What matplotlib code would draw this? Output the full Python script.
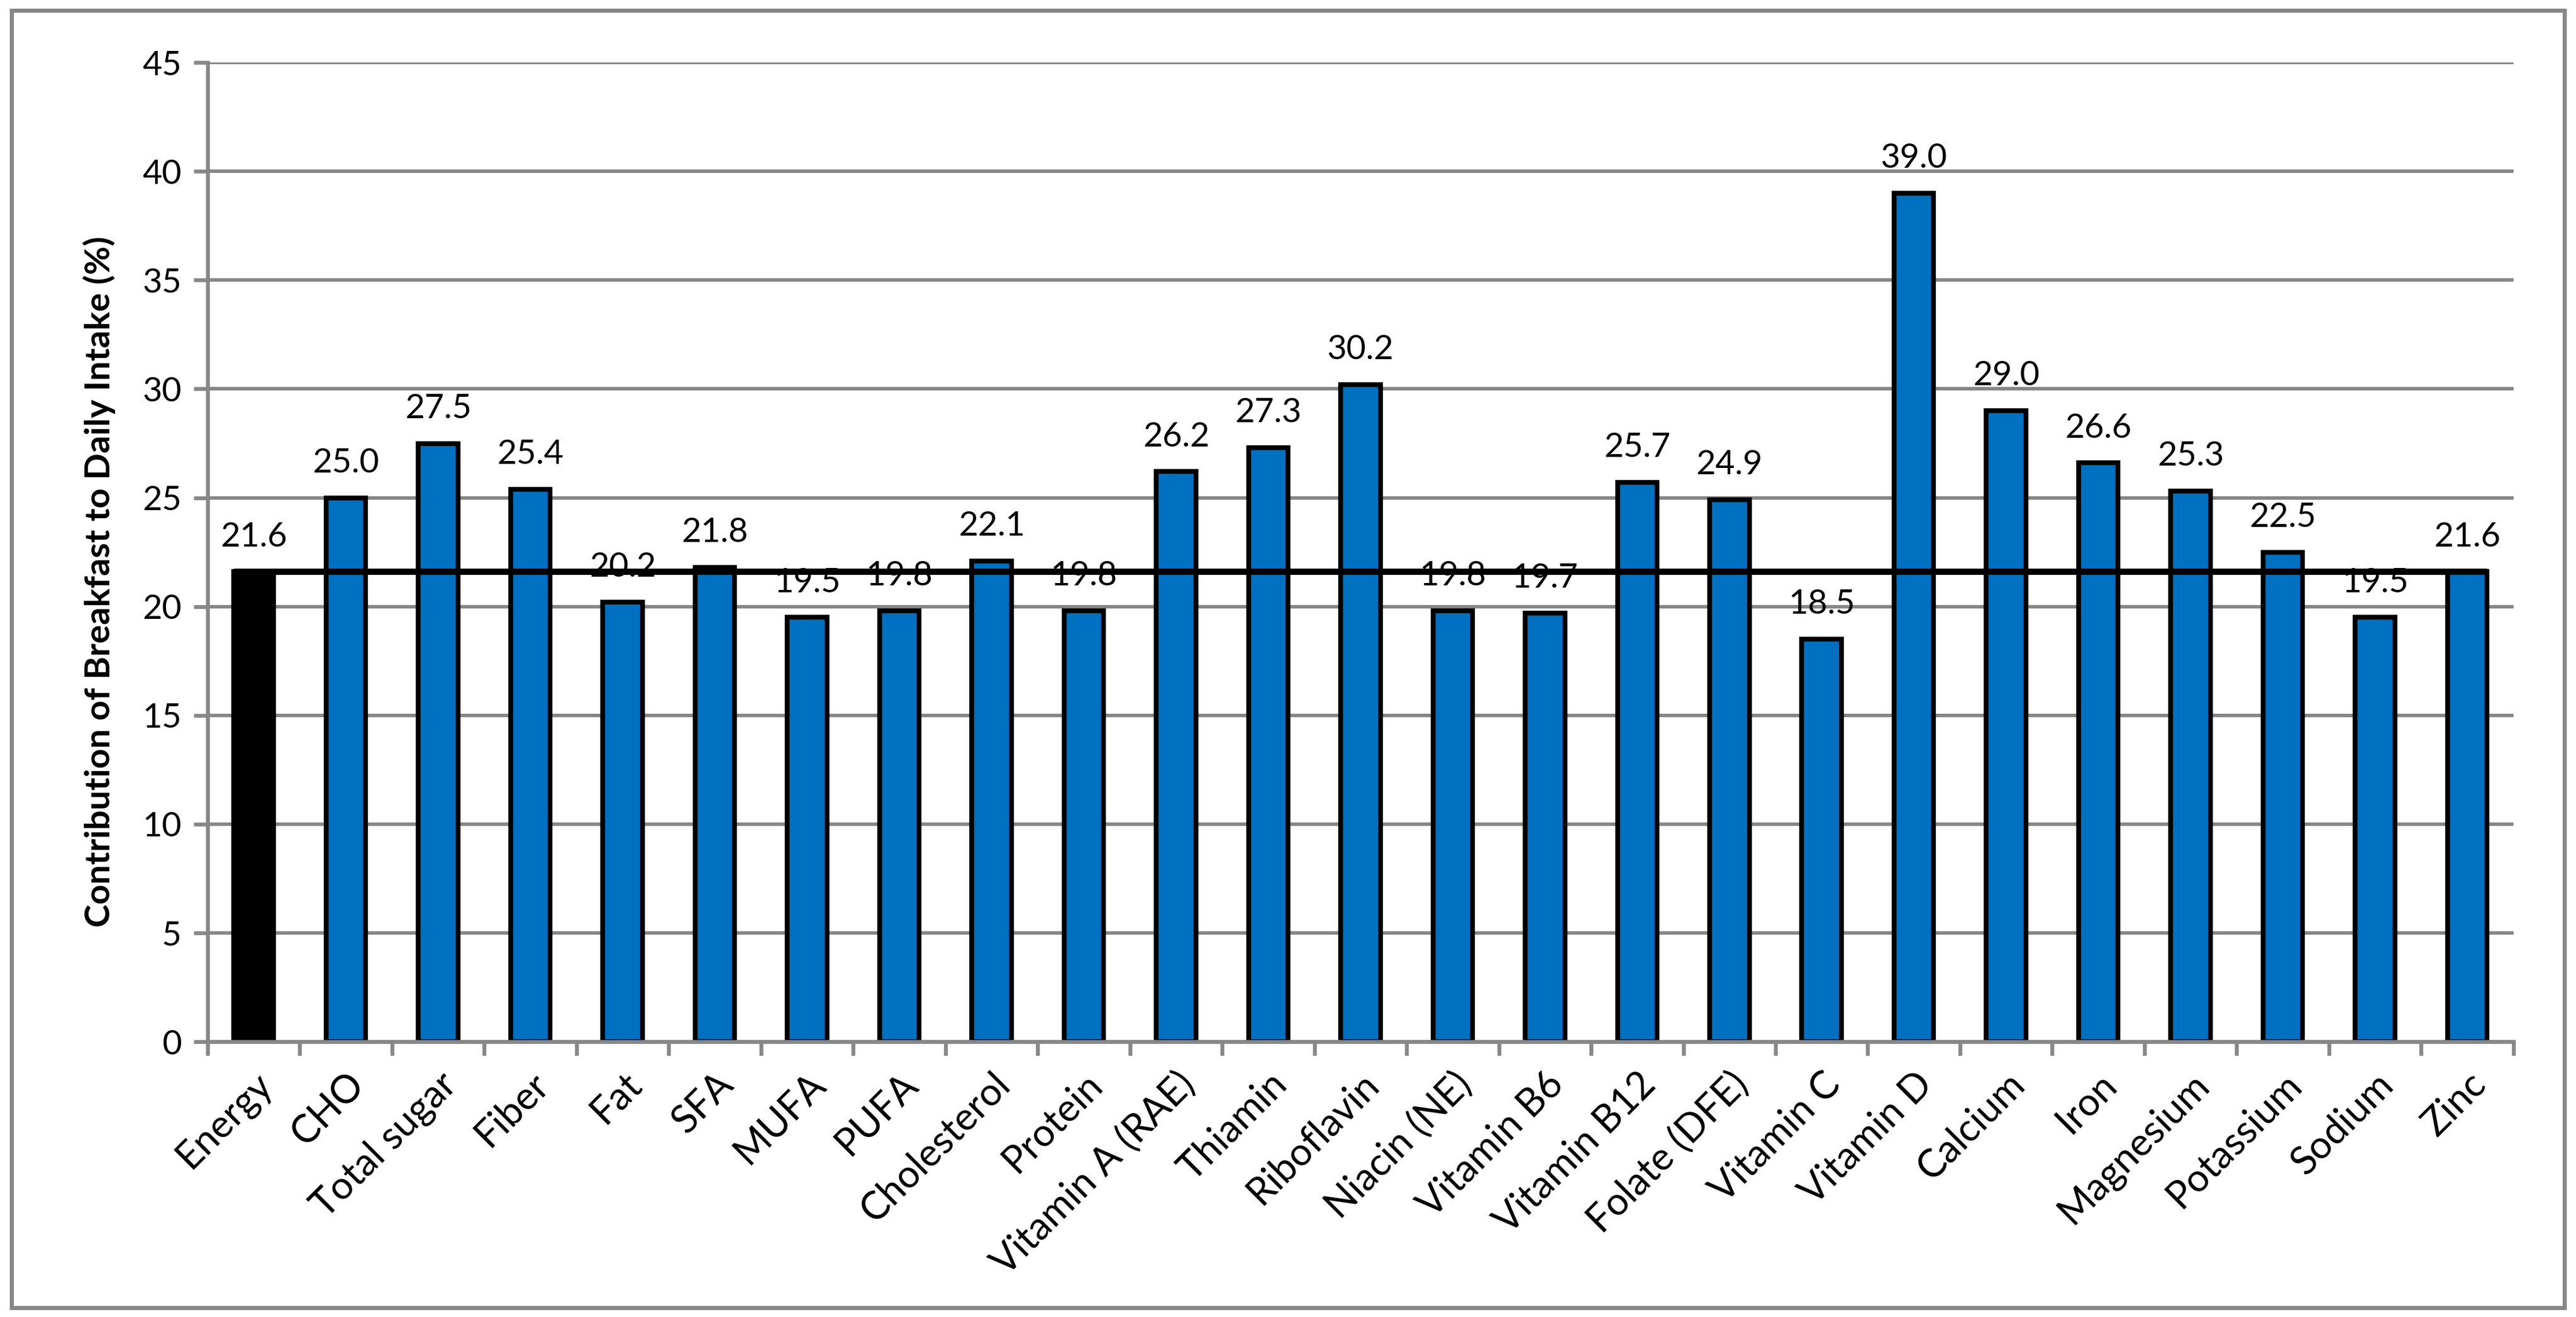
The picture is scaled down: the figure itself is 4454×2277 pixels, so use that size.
import matplotlib
matplotlib.use("Agg")
from matplotlib import pyplot as plt
from matplotlib.patches import Rectangle
import numpy as np

# data
nutrients = ['Energy', 'CHO', 'Total sugar', 'Fiber', 'Fat', 'SFA', 'MUFA', 'PUFA',
             'Cholesterol', 'Protein', 'Vitamin A (RAE)', 'Thiamin', 'Riboflavin',
             'Niacin (NE)', 'Vitamin B6', 'Vitamin B12', 'Folate (DFE)', 'Vitamin C',
             'Vitamin D', 'Calcium', 'Iron', 'Magnesium', 'Potassium', 'Sodium', 'Zinc']
contribution = [21.6, 25.0, 27.5, 25.4, 20.2, 21.8, 19.5, 19.8, 22.1, 19.8, 26.2, 27.3,
                30.2, 19.8, 19.7, 25.7, 24.9, 18.5, 39.0, 29.0, 26.6, 25.3, 22.5, 19.5, 21.6]
y_ticks = [0, 5, 10, 15, 20, 25, 30, 35, 40, 45]

plt.rcParams['font.family'] = ['Lato', 'DejaVu Sans']
grey = '#878787'

fig = plt.figure(figsize=(4454 / 300, 2277 / 300), dpi=300)
ax = fig.add_axes([0.0806, 0.209, 0.9757 - 0.0806, 0.9525 - 0.209])

# outer chart border
fig.patches.append(Rectangle((0.0045, 0.007), 0.991, 0.985, transform=fig.transFigure,
                             fill=False, edgecolor=grey, linewidth=1.7))

x = np.arange(len(nutrients))
w = 0.43
colors = ['black'] + ['#0070C0'] * (len(nutrients) - 1)

ax.set_axisbelow(True)
ax.yaxis.grid(True, color=grey, linewidth=1.45)
ax.bar(x, contribution, width=w, color=colors, edgecolor='black', linewidth=2, zorder=2)

# energy reference line
ax.plot([x[0] - w / 2, x[-1] + w / 2], [contribution[0], contribution[0]],
        color='black', linewidth=2.6, zorder=3, solid_capstyle='butt')

for xi, v in zip(x, contribution):
    ax.text(xi, v + 0.9, '%.1f' % v, ha='center', va='bottom', fontsize=14, zorder=4)

ax.set_xlim(-0.5, len(nutrients) - 0.5)
ax.set_ylim(0, 45)
ax.set_yticks(y_ticks)
ax.tick_params(axis='y', labelsize=14, length=5.8, width=1.6, color=grey, pad=5)

ax.set_xticks(x)
ax.set_xticklabels(nutrients, rotation=45, ha='right', rotation_mode='anchor', fontsize=16)
ax.set_xticks(np.arange(-0.5, len(nutrients), 1), minor=True)
ax.tick_params(axis='x', which='major', length=0, pad=10)
ax.tick_params(axis='x', which='minor', length=5.8, width=1.6, color=grey)

for side in ['top', 'right']:
    ax.spines[side].set_visible(False)
for side in ['left', 'bottom']:
    ax.spines[side].set_color(grey)
    ax.spines[side].set_linewidth(1.6)

ax.set_ylabel('Contribution of Breakfast to Daily Intake (%)', fontsize=14.5,
              fontweight='bold')
ax.yaxis.set_label_coords(-0.04, 0.47)

plt.savefig('out.png', dpi=300)
